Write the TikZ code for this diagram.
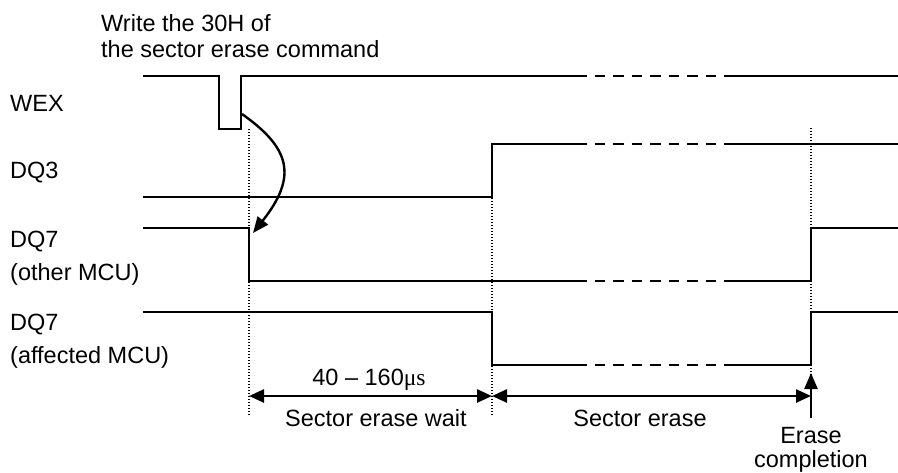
\documentclass[tikz,border=0pt]{standalone}
\usepackage{fontspec}
\setmainfont{Liberation Sans}
\newfontfamily\timesfont{Liberation Serif}
\usetikzlibrary{positioning, arrows.meta}

\begin{document}
\begin{tikzpicture}[x=1pt, y=-1pt, font=\fontsize{23.5}{26}\selectfont,
   sig/.style={line width=2.7pt, line join=miter},
   brk/.style={line width=2.7pt, dash pattern=on 10.5pt off 8pt},
   guide/.style={line width=1.3pt, dash pattern=on 1.3pt off 1.7pt},
   tip/.style={-{Triangle[length=16pt,width=13pt]}, line width=2.4pt},
   dim/.style={{Triangle[length=15pt,width=13pt]}-{Triangle[length=15pt,width=13pt]}, line width=2.5pt},
   lbl/.style={anchor=base west, inner sep=0pt}]
   \useasboundingbox (0,0) rectangle (898,472);

   % 信号名称
   \node[lbl] (wex) at (10,111) {WEX};
   \node[lbl] (dq3) at (10,178) {DQ3};
   \node[lbl] (dq7o) at (10,247) {DQ7};
   \node[lbl] (dq7o_c) at (10,280) {(other MCU)};
   \node[lbl] (dq7a) at (10,330) {DQ7};
   \node[lbl] (dq7a_c) at (10,363) {(affected MCU)};
   \node[lbl] (cmd) at (101,31) {Write the 30H of};
   \node[lbl] (cmd_2) at (101,57) {the sector erase command};

   % 波形（576--735 之间为虚线）
   \draw[sig] (143,76) -- (219,76) -- (219,129) -- (241,129) -- (241,76) -- (576,76);
   \draw[sig] (143,197) -- (492,197) -- (492,144) -- (576,144);
   \draw[sig] (143,228) -- (249,228) -- (249,281) -- (576,281);
   \draw[sig] (143,312) -- (492,312) -- (492,365) -- (576,365);
   \foreach \y in {76,144,281,365}
      \draw[brk] (576,\y) -- (735,\y);
   \draw[sig] (735,76) -- (898,76);
   \draw[sig] (735,144) -- (898,144);
   \draw[sig] (735,281) -- (811,281) -- (811,228) -- (898,228);
   \draw[sig] (735,365) -- (811,365) -- (811,312) -- (898,312);

   % 时间基准线
   \coordinate (w0) at (249,129);
   \coordinate (w1) at (249,415);
   \coordinate (e0) at (492,144);
   \coordinate (e1) at (492,415);
   \coordinate (c0) at (811,128);
   \coordinate (c1) at (811,375);
   \draw[guide] (w0) -- (w1);
   \draw[guide] (e0) -- (e1);
   \draw[guide] (c0) -- (c1);

   % WEX 上升沿 -> DQ7 下降
   \coordinate (pulse) at (242,114);
   \coordinate (fall) at (253,233);
   \draw[tip] (pulse) .. controls (290,148) and (298,176) .. (fall);

   % 时间区间
   \coordinate (d_w) at (249,396);
   \coordinate (d_e) at (492,396);
   \coordinate (d_c) at (811,396);
   \draw[dim] (d_w) -- (d_e);
   \draw[dim] (d_e) -- (d_c);
   \node[anchor=base, inner sep=0pt] (tw) at (369,385) {40 -- 160{\timesfont μs}};
   \node[anchor=base, inner sep=0pt] (wait) at (376,426) {Sector erase wait};
   \node[anchor=base, inner sep=0pt] (erase) at (640,426) {Sector erase};

   % 擦除完成
   \node[anchor=north, align=center, inner sep=0pt] (done) at (811,427) {Erase\\[-2pt]completion};
   \coordinate (done_top) at (811,373);
   \draw[tip] (done.north) ++(0,-9) coordinate (done_foot) (done_foot) -- (done_top);
\end{tikzpicture}
\end{document}
